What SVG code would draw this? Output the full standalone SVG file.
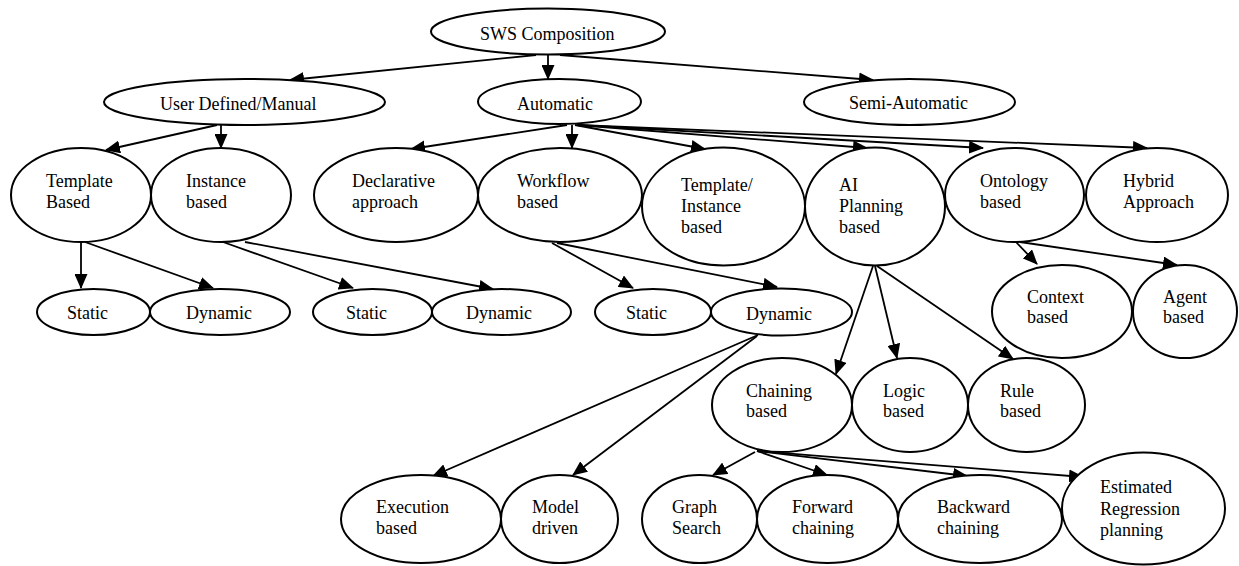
<svg xmlns="http://www.w3.org/2000/svg" width="1239" height="566" viewBox="0 0 1239 566">
<defs>
<style>
.n ellipse{fill:#fff;stroke:#000;stroke-width:2}
.n text{font-family:"Liberation Serif","Times New Roman",serif;font-size:18px;fill:#000}
#edges line{stroke:#000;stroke-width:1.8;marker-end:url(#ah)}
</style>
<marker id="ah" markerUnits="userSpaceOnUse" markerWidth="15" markerHeight="13" refX="14" refY="6.5" orient="auto"><path d="M0,0 L15,6.5 L0,13 z" fill="#000"/></marker>
</defs>
<rect width="1239" height="566" fill="#fff"/>
<g id="edges">
<line x1="536" y1="55" x2="290" y2="80"/>
<line x1="548" y1="55" x2="548" y2="79"/>
<line x1="560" y1="55" x2="873" y2="80"/>
<line x1="217" y1="125" x2="106" y2="150"/>
<line x1="221" y1="125" x2="221" y2="148"/>
<line x1="567" y1="125" x2="411" y2="149"/>
<line x1="572" y1="125" x2="572" y2="148"/>
<line x1="575" y1="125" x2="705" y2="149"/>
<line x1="577" y1="125" x2="867" y2="148"/>
<line x1="577" y1="125" x2="983" y2="148"/>
<line x1="577" y1="125" x2="1147" y2="148"/>
<line x1="81" y1="242" x2="81" y2="288"/>
<line x1="85" y1="242" x2="213" y2="288"/>
<line x1="223" y1="242" x2="353" y2="288"/>
<line x1="245" y1="242" x2="493" y2="289"/>
<line x1="552" y1="243" x2="633" y2="288"/>
<line x1="557" y1="243" x2="777" y2="287"/>
<line x1="758" y1="335" x2="433" y2="476"/>
<line x1="757" y1="336" x2="573" y2="475"/>
<line x1="873" y1="266" x2="836" y2="374"/>
<line x1="875" y1="266" x2="897" y2="358"/>
<line x1="877" y1="266" x2="1013" y2="359"/>
<line x1="1016" y1="242" x2="1037" y2="264"/>
<line x1="1020" y1="242" x2="1177" y2="265"/>
<line x1="755" y1="452" x2="713" y2="475"/>
<line x1="757" y1="451" x2="827" y2="475"/>
<line x1="757" y1="451" x2="967" y2="476"/>
<line x1="757" y1="451" x2="1083" y2="477"/>
</g>
<g id="sws" class="n"><ellipse cx="548" cy="31.5" rx="117" ry="23"/><text x="480" y="40">SWS Composition</text></g>
<g id="userdefined" class="n"><ellipse cx="244.5" cy="102" rx="140.5" ry="23"/><text x="160" y="110">User Defined/Manual</text></g>
<g id="automatic" class="n"><ellipse cx="559.5" cy="101.5" rx="81.5" ry="22.5"/><text x="517" y="110">Automatic</text></g>
<g id="semiautomatic" class="n"><ellipse cx="909.5" cy="102" rx="105.5" ry="23"/><text x="849" y="109">Semi-Automatic</text></g>
<g id="templatebased" class="n"><ellipse cx="81" cy="195" rx="70" ry="47"/><text x="46" y="187">Template</text><text x="46" y="208">Based</text></g>
<g id="instancebased" class="n"><ellipse cx="221" cy="195" rx="70" ry="47"/><text x="186" y="187">Instance</text><text x="186" y="208">based</text></g>
<g id="declarative" class="n"><ellipse cx="396" cy="195" rx="82" ry="47"/><text x="352" y="187">Declarative</text><text x="352" y="208">approach</text></g>
<g id="workflow" class="n"><ellipse cx="560" cy="195" rx="82" ry="47"/><text x="517" y="187">Workflow</text><text x="517" y="208">based</text></g>
<g id="templateinstance" class="n"><ellipse cx="723.5" cy="206.5" rx="81.5" ry="59"/><text x="681" y="191">Template/</text><text x="681" y="212">Instance</text><text x="681" y="233">based</text></g>
<g id="aiplanning" class="n"><ellipse cx="875" cy="206.5" rx="70" ry="59"/><text x="839" y="191">AI</text><text x="839" y="212">Planning</text><text x="839" y="233">based</text></g>
<g id="ontology" class="n"><ellipse cx="1014.5" cy="195" rx="69.5" ry="47"/><text x="980" y="187">Ontology</text><text x="980" y="208">based</text></g>
<g id="hybrid" class="n"><ellipse cx="1157" cy="195" rx="71" ry="47"/><text x="1123" y="187">Hybrid</text><text x="1123" y="208">Approach</text></g>
<g id="tstatic" class="n"><ellipse cx="93.5" cy="312" rx="56.5" ry="23"/><text x="67" y="319">Static</text></g>
<g id="tdynamic" class="n"><ellipse cx="220" cy="312" rx="70" ry="23"/><text x="186" y="319">Dynamic</text></g>
<g id="istatic" class="n"><ellipse cx="372.5" cy="312" rx="59.5" ry="23"/><text x="346" y="319">Static</text></g>
<g id="idynamic" class="n"><ellipse cx="501.5" cy="312" rx="69.5" ry="23"/><text x="466" y="319">Dynamic</text></g>
<g id="wstatic" class="n"><ellipse cx="653" cy="312" rx="58" ry="23"/><text x="626" y="319">Static</text></g>
<g id="wdynamic" class="n"><ellipse cx="781.5" cy="312" rx="70.5" ry="23.5"/><text x="746" y="320">Dynamic</text></g>
<g id="context" class="n"><ellipse cx="1062" cy="311.5" rx="70" ry="46.5"/><text x="1027" y="303">Context</text><text x="1027" y="323">based</text></g>
<g id="agent" class="n"><ellipse cx="1185" cy="311.5" rx="52" ry="46.5"/><text x="1163" y="303">Agent</text><text x="1163" y="323">based</text></g>
<g id="chaining" class="n"><ellipse cx="782" cy="405" rx="70" ry="47"/><text x="746" y="397">Chaining</text><text x="746" y="417">based</text></g>
<g id="logic" class="n"><ellipse cx="910" cy="405" rx="58" ry="47"/><text x="883" y="397">Logic</text><text x="883" y="417">based</text></g>
<g id="rule" class="n"><ellipse cx="1026.5" cy="405" rx="58.5" ry="47"/><text x="1000" y="397">Rule</text><text x="1000" y="417">based</text></g>
<g id="execution" class="n"><ellipse cx="421" cy="519" rx="80" ry="44"/><text x="376" y="513">Execution</text><text x="376" y="534">based</text></g>
<g id="model" class="n"><ellipse cx="559.5" cy="519" rx="58.5" ry="44"/><text x="532" y="513">Model</text><text x="532" y="534">driven</text></g>
<g id="graph" class="n"><ellipse cx="699.5" cy="519" rx="57.5" ry="44"/><text x="672" y="513">Graph</text><text x="672" y="534">Search</text></g>
<g id="forward" class="n"><ellipse cx="827.5" cy="519" rx="70.5" ry="44"/><text x="792" y="513">Forward</text><text x="792" y="534">chaining</text></g>
<g id="backward" class="n"><ellipse cx="980" cy="519" rx="82" ry="44"/><text x="937" y="513">Backward</text><text x="937" y="534">chaining</text></g>
<g id="estimated" class="n"><ellipse cx="1143.5" cy="508.5" rx="81.5" ry="56"/><text x="1100" y="493">Estimated</text><text x="1100" y="515">Regression</text><text x="1100" y="536">planning</text></g>
</svg>
